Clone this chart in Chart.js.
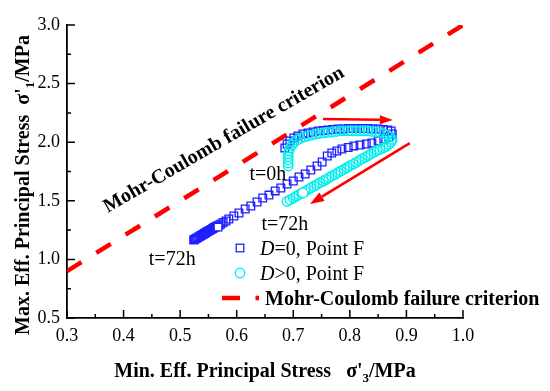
<!DOCTYPE html>
<html><head><meta charset="utf-8">
<script src="https://cdn.jsdelivr.net/npm/chart.js@4.4.0/dist/chart.umd.min.js"></script>
<style>html,body{margin:0;padding:0;background:#fff;}canvas{display:block;}</style>
</head><body>
<canvas id="c" width="550" height="391" style="width:550px;height:391px"></canvas>
<script>
// ---------- data ----------
const xTickValues = [0.3, 0.4, 0.5, 0.6, 0.7, 0.8, 0.9, 1.0];
const xTickLabels = ['0.3', '0.4', '0.5', '0.6', '0.7', '0.8', '0.9', '1.0'];
const xMinorValues = [0.35, 0.45, 0.55, 0.65, 0.75, 0.85, 0.95];
const yTickValues = [0.5, 1.0, 1.5, 2.0, 2.5, 3.0];
const yTickLabels = ['0.5', '1.0', '1.5', '2.0', '2.5', '3.0'];
const yMinorValues = [0.75, 1.25, 1.75, 2.25, 2.75];

const mcX = [0.3, 1.0];
const mcY = [0.9, 3.0];

const d0Points = [
  [0.685,1.951],[0.689,1.985],[0.694,2.010],[0.701,2.036],[0.708,2.053],[0.717,2.070],
  [0.726,2.079],[0.735,2.087],[0.744,2.096],[0.753,2.100],[0.761,2.104],[0.770,2.108],
  [0.779,2.113],[0.788,2.113],[0.797,2.117],[0.806,2.117],[0.814,2.117],[0.823,2.117],
  [0.832,2.117],[0.841,2.113],[0.850,2.113],[0.859,2.108],[0.867,2.104],[0.873,2.096],
  [0.875,2.070],[0.869,2.044],[0.860,2.027],[0.850,2.010],[0.839,1.993],[0.829,1.985],
  [0.818,1.976],[0.807,1.968],[0.797,1.955],[0.786,1.942],[0.777,1.925],[0.768,1.908],
  [0.760,1.882],[0.751,1.831],[0.742,1.797],[0.731,1.763],[0.721,1.729],[0.710,1.703],
  [0.700,1.669],[0.689,1.643],[0.678,1.609],[0.668,1.584],[0.657,1.549],[0.646,1.524],
  [0.636,1.490],[0.625,1.456],[0.615,1.430],[0.604,1.396],[0.595,1.370],[0.586,1.345],
  [0.581,1.328],[0.576,1.315],[0.572,1.302],[0.569,1.294],[0.565,1.285],[0.563,1.279],
  [0.561,1.273],[0.559,1.268],[0.557,1.262],[0.555,1.256],[0.553,1.250],[0.551,1.244],
  [0.549,1.239],[0.547,1.233],[0.545,1.227],[0.543,1.221],[0.541,1.215],[0.539,1.210],
  [0.537,1.204],[0.535,1.198],[0.533,1.192],[0.531,1.186],[0.529,1.181],[0.527,1.175],
  [0.525,1.169],[0.524,1.166]
];

const dpPoints = [
  [0.691,1.797],[0.691,1.823],[0.691,1.848],[0.691,1.874],[0.691,1.899],[0.692,1.925],
  [0.694,1.951],[0.698,1.976],[0.701,1.997],[0.707,2.019],[0.712,2.032],[0.719,2.044],
  [0.726,2.053],[0.733,2.061],[0.740,2.070],[0.747,2.074],[0.754,2.079],[0.761,2.083],
  [0.768,2.087],[0.776,2.091],[0.783,2.096],[0.790,2.096],[0.797,2.096],[0.804,2.096],
  [0.811,2.096],[0.818,2.096],[0.825,2.096],[0.832,2.096],[0.839,2.091],[0.846,2.087],
  [0.853,2.083],[0.860,2.074],[0.866,2.061],[0.871,2.044],[0.875,2.023],[0.873,2.002],
  [0.869,1.980],[0.864,1.963],[0.859,1.951],[0.853,1.938],[0.848,1.929],[0.843,1.915],
  [0.837,1.900],[0.832,1.886],[0.827,1.871],[0.821,1.857],[0.816,1.842],[0.811,1.828],
  [0.806,1.813],[0.800,1.799],[0.795,1.784],[0.790,1.770],[0.784,1.755],[0.779,1.741],
  [0.774,1.726],[0.768,1.712],[0.763,1.697],[0.758,1.683],[0.753,1.668],[0.747,1.654],
  [0.742,1.639],[0.737,1.625],[0.731,1.610],[0.726,1.596],[0.721,1.581],[0.715,1.567],
  [0.710,1.552],[0.705,1.538],[0.700,1.523],[0.694,1.509],[0.689,1.494]
];

const d0Marked = [[0.567, 1.276]];
const dpMarked = [[0.717, 1.567]];

// annotation anchors (data coordinates)
const arrowTop = [[0.7525, 2.198], [0.876, 2.190]];
const arrowLow = [[0.906, 1.993], [0.7296, 1.473]];
const labelT0 = [0.655, 1.720];
const labelT72a = [0.685, 1.294];
const labelT72b = [0.486, 0.995];
const labelMC = [0.5775, 2.019];

// ---------- styling ----------
const FONT = "'Liberation Serif','Times New Roman',serif";
const BLUE = '#1f1fff';
const CYAN = '#00eeee';
const RED = '#ff0000';

function runsWidth(ctx, runs) {
  let w = 0;
  for (const r of runs) { ctx.font = r.font; w += ctx.measureText(r.t).width; }
  return w;
}
function drawRuns(ctx, runs, cx, baseY) {
  let x = cx - runsWidth(ctx, runs) / 2;
  ctx.textAlign = 'left';
  ctx.textBaseline = 'alphabetic';
  for (const r of runs) {
    ctx.font = r.font;
    ctx.fillText(r.t, x, baseY + (r.dy || 0));
    x += ctx.measureText(r.t).width;
  }
}
function drawRow(ctx, runs, x, base) {
  ctx.textAlign = 'left'; ctx.textBaseline = 'alphabetic';
  for (const r of runs) { ctx.font = r.font; ctx.fillText(r.t, x, base); x += ctx.measureText(r.t).width; }
}
function drawArrow(ctx, x1, y1, x2, y2, hl, hw) {
  const a = Math.atan2(y2 - y1, x2 - x1);
  const bx = x2 - hl * Math.cos(a), by = y2 - hl * Math.sin(a);
  ctx.beginPath(); ctx.moveTo(x1, y1); ctx.lineTo(bx, by); ctx.stroke();
  ctx.beginPath();
  ctx.moveTo(x2, y2);
  ctx.lineTo(bx + hw * Math.sin(a), by - hw * Math.cos(a));
  ctx.lineTo(bx - hw * Math.sin(a), by + hw * Math.cos(a));
  ctx.closePath(); ctx.fill();
}

const overlay = {
  id: 'overlay',
  afterDatasetsDraw(chart) {
    const ctx = chart.ctx, a = chart.chartArea;
    const xs = chart.scales.x, ys = chart.scales.y;
    const P = (p) => [xs.getPixelForValue(p[0]), ys.getPixelForValue(p[1])];
    ctx.save();
    // inward ticks
    ctx.strokeStyle = '#000'; ctx.lineWidth = 1.5; ctx.lineCap = 'butt';
    ctx.beginPath();
    xTickValues.forEach(v => { const p = xs.getPixelForValue(v); ctx.moveTo(p, a.bottom); ctx.lineTo(p, a.bottom - 8); });
    xMinorValues.forEach(v => { const p = xs.getPixelForValue(v); ctx.moveTo(p, a.bottom); ctx.lineTo(p, a.bottom - 4); });
    yTickValues.forEach(v => { const p = ys.getPixelForValue(v); ctx.moveTo(a.left, p); ctx.lineTo(a.left + 8, p); });
    yMinorValues.forEach(v => { const p = ys.getPixelForValue(v); ctx.moveTo(a.left, p); ctx.lineTo(a.left + 4, p); });
    ctx.stroke();

    // arrows
    ctx.strokeStyle = RED; ctx.fillStyle = RED; ctx.lineWidth = 2.6;
    let p1 = P(arrowTop[0]), p2 = P(arrowTop[1]);
    drawArrow(ctx, p1[0], p1[1], p2[0], p2[1], 13, 4.5);
    p1 = P(arrowLow[0]); p2 = P(arrowLow[1]);
    drawArrow(ctx, p1[0], p1[1], p2[0], p2[1], 14, 5);

    // annotation texts
    ctx.fillStyle = '#000';
    ctx.font = `20px ${FONT}`; ctx.textAlign = 'center'; ctx.textBaseline = 'middle';
    let q = P(labelT0); ctx.fillText('t=0h', q[0], q[1]);
    q = P(labelT72a); ctx.fillText('t=72h', q[0], q[1]);
    q = P(labelT72b); ctx.fillText('t=72h', q[0], q[1]);
    q = P(labelMC);
    ctx.save(); ctx.translate(q[0], q[1]); ctx.rotate(-30 * Math.PI / 180);
    ctx.font = `bold 20px ${FONT}`; ctx.fillText('Mohr-Coulomb failure criterion', 0, 0);
    ctx.restore();

    // axis titles
    const B = `bold 20px ${FONT}`, S = `bold 13px ${FONT}`;
    drawRuns(ctx, [{t: 'Min. Eff. Principal Stress   \u03c3\'', font: B}, {t: '3', font: S, dy: 5}, {t: '/MPa', font: B}], 265, 377);
    ctx.save(); ctx.translate(22, 185); ctx.rotate(-Math.PI / 2);
    drawRuns(ctx, [{t: 'Max. Eff. Principal Stress  \u03c3\'', font: B}, {t: '1', font: S, dy: 5}, {t: '/MPa', font: B}], 0, 7);
    ctx.restore();

    // legend
    ctx.lineWidth = 1.3; ctx.strokeStyle = BLUE;
    ctx.strokeRect(240 - 3.8, 248 - 3.8, 7.6, 7.6);
    ctx.strokeStyle = CYAN; ctx.lineWidth = 1.4;
    ctx.beginPath(); ctx.arc(240, 273, 4.7, 0, Math.PI * 2); ctx.stroke();
    ctx.strokeStyle = RED; ctx.lineWidth = 4.5;
    ctx.beginPath(); ctx.moveTo(222, 298); ctx.lineTo(240, 298); ctx.moveTo(255.5, 298); ctx.lineTo(259, 298); ctx.stroke();
    ctx.fillStyle = '#000';
    drawRow(ctx, [{t: 'D', font: `italic 20px ${FONT}`}, {t: '=0, Point F', font: `20px ${FONT}`}], 260, 255);
    drawRow(ctx, [{t: 'D', font: `italic 20px ${FONT}`}, {t: '>0, Point F', font: `20px ${FONT}`}], 260, 280);
    drawRow(ctx, [{t: 'Mohr-Coulomb failure criterion', font: `bold 20px ${FONT}`}], 265, 305);
    ctx.restore();
  }
};

const toXY = arr => arr.map(([x, y]) => ({x, y}));

new Chart(document.getElementById('c'), {
  type: 'scatter',
  data: {
    datasets: [
      {label: 'Mohr-Coulomb failure criterion', data: mcX.map((x, i) => ({x, y: mcY[i]})),
       showLine: true, borderColor: RED, borderWidth: 4.5, borderDash: [17, 17.5], borderCapStyle: 'butt',
       pointRadius: 0, fill: false, order: 10},
      {label: 'D=0, Point F', data: toXY(d0Points), pointStyle: 'rect', pointRadius: 5.4,
       pointBorderWidth: 1.3, borderColor: BLUE, backgroundColor: 'rgba(0,0,0,0)', order: 4},
      {label: 'D>0, Point F', data: toXY(dpPoints), pointStyle: 'circle', pointRadius: 4.7,
       pointBorderWidth: 1.4, borderColor: CYAN, backgroundColor: 'rgba(0,0,0,0)', order: 3},
      {label: 'D=0 marked', data: toXY(d0Marked), pointStyle: 'rect', pointRadius: 5.4,
       pointBorderWidth: 1.3, borderColor: BLUE, backgroundColor: '#ffffff', order: 1},
      {label: 'D>0 marked', data: toXY(dpMarked), pointStyle: 'circle', pointRadius: 4.8,
       pointBorderWidth: 1.4, borderColor: CYAN, backgroundColor: '#ffffff', order: 0}
    ]
  },
  options: {
    responsive: false, animation: false, events: [],
    layout: {padding: {left: 0, right: 87, top: 25, bottom: 0}},
    plugins: {legend: {display: false}, tooltip: {enabled: false}},
    scales: {
      x: {
        type: 'linear', min: 0.3, max: 1.0,
        afterBuildTicks: s => { s.ticks = xTickValues.map(v => ({value: v})); },
        afterFit: s => { s.height = 73; },
        ticks: {font: {family: FONT, size: 18}, color: '#000', padding: 7,
                callback: (v) => xTickLabels[xTickValues.findIndex(t => Math.abs(t - v) < 1e-6)]},
        grid: {display: true, drawOnChartArea: false, drawTicks: false},
        border: {display: true, color: '#000', width: 1.8}
      },
      y: {
        type: 'linear', min: 0.5, max: 3.0,
        afterBuildTicks: s => { s.ticks = yTickValues.map(v => ({value: v})); },
        afterFit: s => { s.width = 67; },
        ticks: {font: {family: FONT, size: 18}, color: '#000', padding: 7,
                callback: (v) => yTickLabels[yTickValues.findIndex(t => Math.abs(t - v) < 1e-6)]},
        grid: {display: true, drawOnChartArea: false, drawTicks: false},
        border: {display: true, color: '#000', width: 1.8}
      }
    }
  },
  plugins: [overlay]
});
</script>
</body></html>
